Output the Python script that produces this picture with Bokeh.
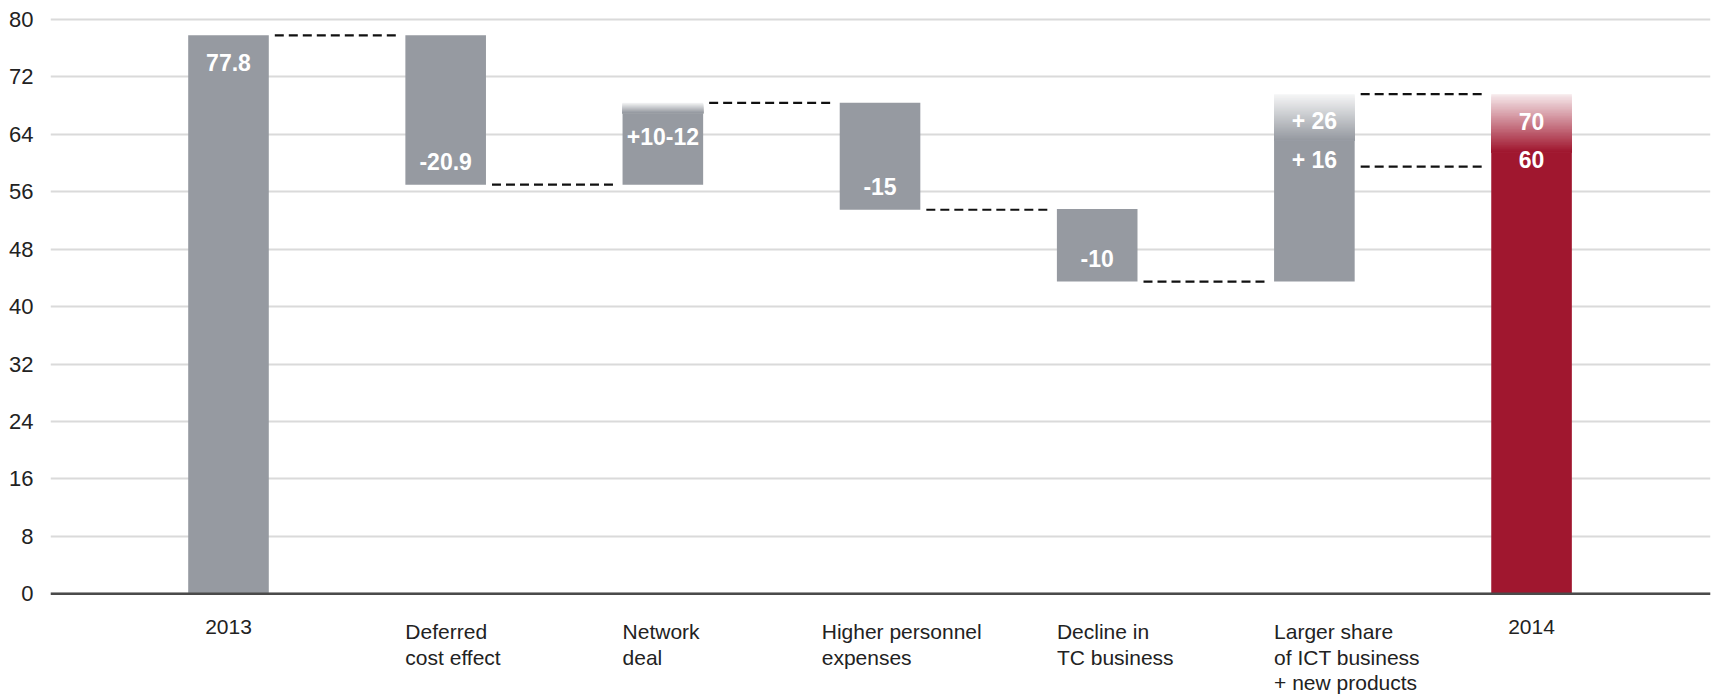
from bokeh.plotting import figure
from bokeh.models import ColumnDataSource, Span, FixedTicker
from bokeh.core.properties import value
from bokeh.embed import file_html
from bokeh.resources import INLINE

# ---------------- data ----------------
categories = ["2013", "Deferred\ncost effect", "Network\ndeal",
              "Higher personnel\nexpenses", "Decline in\nTC business",
              "Larger share\nof ICT business\n+ new products", "2014"]
bar_bottom = [0.0, 57.0, 57.0, 53.5, 43.5, 43.5, 0.0]
bar_top = [77.8, 77.8, 68.4, 68.4, 53.6, 69.6, 69.6]
bar_kind = ["total", "step", "step", "step", "step", "step", "final"]

value_labels = ["77.8", "-20.9", "+10-12", "-15", "-10", "+ 26", "+ 16", "70", "60"]
label_cat = [0, 1, 2, 3, 4, 5, 5, 6, 6]
label_level = [77.8, 57.0, 62.7, 53.5, 43.5, 69.6, 59.5, 69.6, 59.5]

connector_from = [0, 1, 2, 3, 4, 5, 5]
connector_level = [77.8, 57.0, 68.4, 53.5, 43.5, 69.6, 59.5]

y_ticks = [0, 8, 16, 24, 32, 40, 48, 56, 64, 72, 80]

# ---------------- style / geometry ----------------
W, H = 1717, 698
LEFT, RIGHT_BORDER = 50, 7
FRAME_W = W - LEFT - RIGHT_BORDER
FRAME_H = H
Y0, Y1 = -14.58, 82.65
X0, X1 = -0.8196, 6.824
ppu_y = FRAME_H / (Y1 - Y0)          # pixels per y unit
ppu_x = FRAME_W / (X1 - X0)          # pixels per x unit
BAR_W = 80.6 / ppu_x
GAP = 6 / ppu_x

GRAY = (150, 154, 161)
RED = (160, 23, 47)
FONT = "Liberation Sans"

def hexc(c):
    return "#%02x%02x%02x" % tuple(int(round(v)) for v in c)

p = figure(width=W, height=H, x_range=(X0, X1), y_range=(Y0, Y1),
           output_backend="svg", toolbar_location=None,
           x_axis_location=None, y_axis_location="left",
           min_border_left=LEFT, min_border_right=RIGHT_BORDER,
           min_border_top=0, min_border_bottom=0)
p.outline_line_color = None
p.background_fill_color = "white"
p.border_fill_color = "white"
p.xgrid.visible = False
p.yaxis.ticker = FixedTicker(ticks=y_ticks)
p.yaxis.axis_line_color = None
p.yaxis.major_tick_line_color = None
p.yaxis.minor_tick_line_color = None
p.yaxis.major_label_standoff = 11
p.yaxis.major_label_text_font = FONT
p.yaxis.major_label_text_font_size = "22px"
p.yaxis.major_label_text_color = "#222222"
p.ygrid.grid_line_color = "#dadada"
p.ygrid.grid_line_width = 2

# ---------------- bars ----------------
fade_px = {2: 10, 5: 46, 6: 58}
xs = list(range(len(categories)))
base_top = []
for i in xs:
    fp = fade_px.get(i, 0)
    base_top.append(bar_top[i] - fp / ppu_y)
colors = [hexc(RED) if k == "final" else hexc(GRAY) for k in bar_kind]
p.quad(left=[x - BAR_W / 2 for x in xs], right=[x + BAR_W / 2 for x in xs],
       bottom=bar_bottom, top=base_top, fill_color=colors, line_color=None)

# gradient fades at bar tops (drawn light first, darker later, overlapping)
sl, sr, sb, st, sc = [], [], [], [], []
N = 40
for i, fp in fade_px.items():
    base = RED if bar_kind[i] == "final" else GRAY
    ftop = bar_top[i]
    fbot = base_top[i]
    for k in range(N):
        t = k / (N - 1)                    # 0 at top -> 1 at bottom of fade
        y_k = ftop - (ftop - fbot) * k / N
        mix = 0.10 + 0.90 * t
        col = tuple(255 * (1 - mix) + b * mix for b in base)
        sl.append(i - BAR_W / 2); sr.append(i + BAR_W / 2)
        sb.append(fbot - 0.05); st.append(y_k); sc.append(hexc(col))
p.quad(left="l", right="r", bottom="b", top="t", fill_color="c", line_color=None,
       source=ColumnDataSource(dict(l=sl, r=sr, b=sb, t=st, c=sc)))

# ---------------- connectors ----------------
cx0 = [i + BAR_W / 2 + GAP for i in connector_from]
cx1 = [i + 1 - BAR_W / 2 - GAP for i in connector_from]
p.segment(x0=cx0, x1=cx1, y0=connector_level, y1=connector_level,
          line_color="#111111", line_width=2.2, line_dash="9 5")

# zero axis line
p.add_layout(Span(location=0, dimension="width", line_color="#4a4a4a", line_width=2.5))

# ---------------- value labels ----------------
lx, ly = [], []
for j, (c, lev) in enumerate(zip(label_cat, label_level)):
    if lev == bar_top[c]:
        off = -27
    elif lev == bar_bottom[c]:
        off = 23
    else:
        off = 7
    lx.append(c)
    ly.append(lev + off / ppu_y)
p.text(x=lx, y=ly, text=value_labels, text_color="white",
       text_font=value(FONT), text_font_style="bold", text_font_size="23px",
       text_align="center", text_baseline="middle")

# ---------------- category labels ----------------
cat_x, cat_align = [], []
for i, c in enumerate(categories):
    if bar_kind[i] in ("total", "final"):
        cat_x.append(i); cat_align.append("center")
    else:
        shift = 18 / ppu_x if i == 3 else 0.0
        cat_x.append(i - BAR_W / 2 - shift); cat_align.append("left")
cat_y = [-3.7] * len(categories)
src = ColumnDataSource(dict(x=cat_x, y=cat_y, t=categories, a=cat_align))
p.text(x="x", y="y", text="t", text_align="a", text_baseline="top",
       text_color="#222222", text_font=value(FONT), text_font_size="21px",
       text_line_height=1.1, source=src)

open("out.html", "w").write(file_html(p, INLINE))
